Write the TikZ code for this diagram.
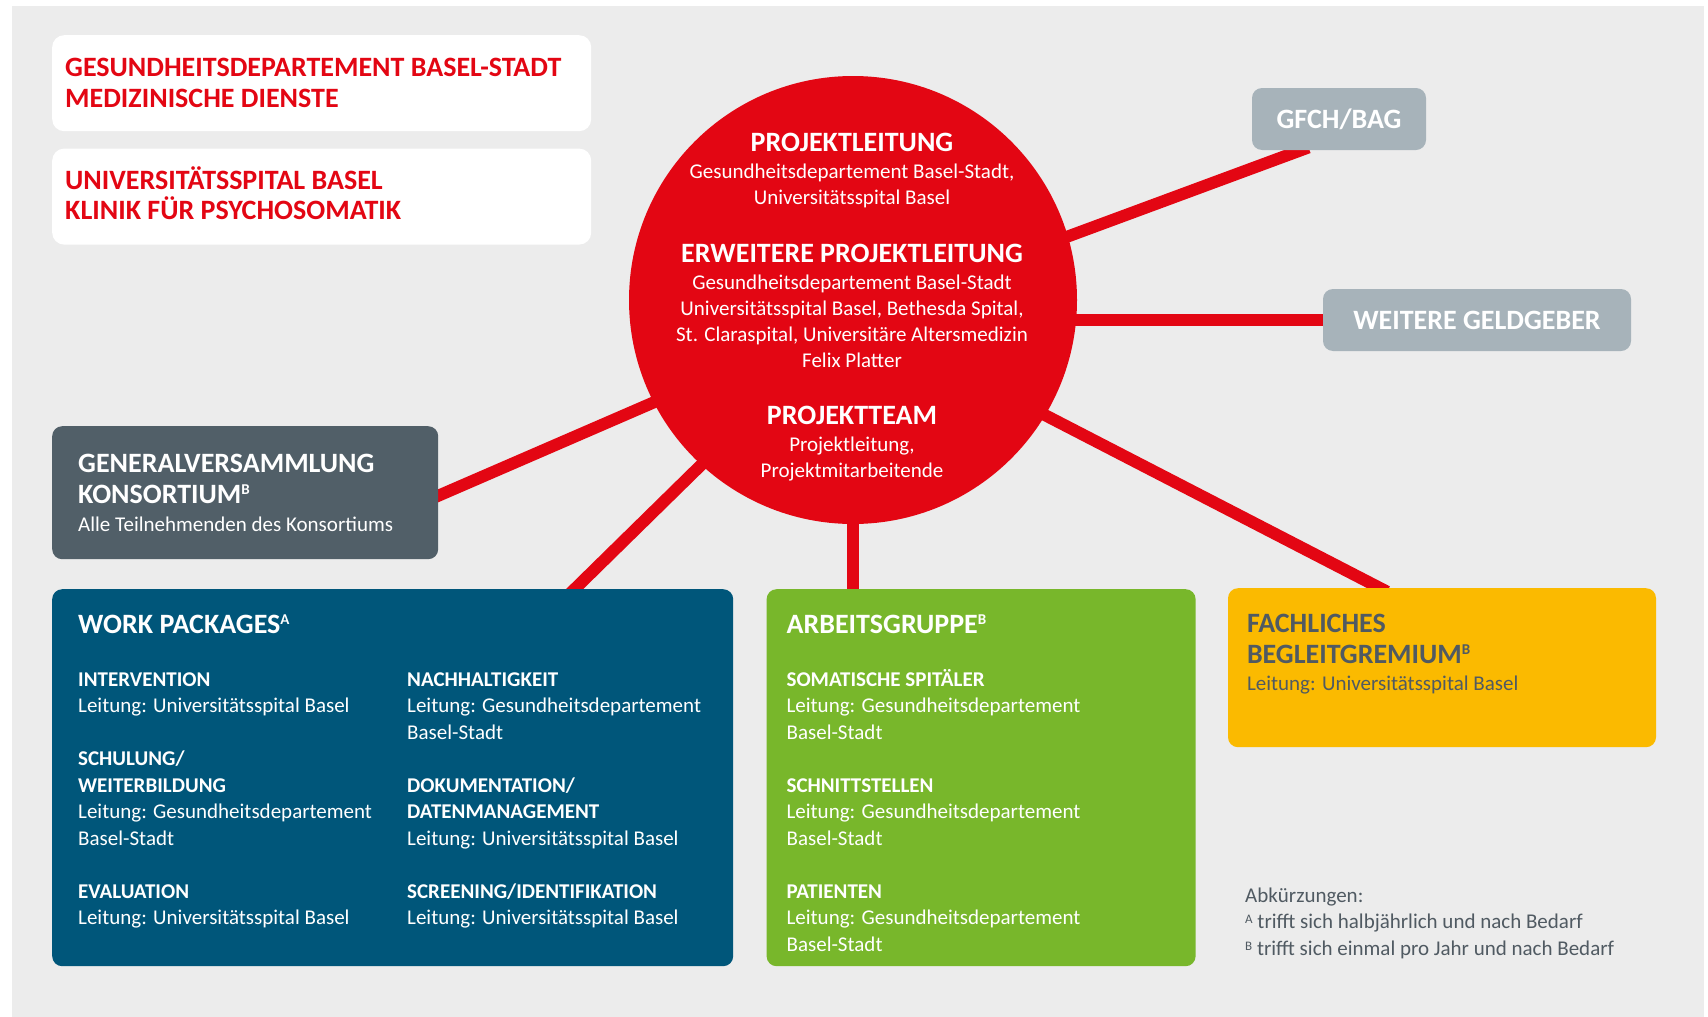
\documentclass[tikz,border=0pt]{standalone}
\usepackage{fontspec}
\setmainfont{Carlito}
\usetikzlibrary{positioning,calc,backgrounds}
\definecolor{rotBasel}{RGB}{227,6,19}
\definecolor{panelGrau}{RGB}{236,236,236}
\definecolor{hellGrau}{RGB}{167,179,186}
\definecolor{schiefer}{RGB}{81,95,104}
\definecolor{blauWP}{RGB}{0,86,122}
\definecolor{gruenAG}{RGB}{120,183,43}
\definecolor{gelbFB}{RGB}{251,186,0}
\definecolor{textGrau}{RGB}{80,90,98}
\newcommand{\kopfschrift}{\fontsize{28}{30.5}\selectfont\bfseries}
\newcommand{\grundschrift}{\fontsize{21}{26.5}\selectfont}
\newcommand{\hochB}[1]{\raisebox{8.5pt}{\fontsize{15}{15}\selectfont #1}}
\newcommand{\hochL}[1]{\raisebox{5pt}{\fontsize{13}{13}\selectfont #1}}
\tikzset{
  kasten/.style={rectangle, rounded corners=10pt, anchor=north west, inner sep=0pt},
  weisskasten/.style={kasten, fill=white, rounded corners=12pt,
                      minimum width=539pt, minimum height=96pt},
  geldkasten/.style={rectangle, rounded corners=10pt, fill=hellGrau, text=white,
                     font=\kopfschrift, inner sep=0pt, minimum height=62pt},
  titel/.style={anchor=base west, inner sep=0pt, align=left, font=\kopfschrift},
  inhalt/.style={anchor=base west, inner sep=0pt, align=left, font=\grundschrift},
  kreistext/.style={anchor=base, inner sep=0pt, align=center, text=white,
                    font=\fontsize{21}{26}\selectfont},
  linie/.style={rotBasel, line width=12pt, shorten >=-8pt},
}

\begin{document}
\begin{tikzpicture}[x=1pt, y=-1pt]
  \useasboundingbox (0,0) rectangle (1708,1017);
  % Traeger oben links (Textanker = letzte Zeile)
  \node[weisskasten] (gd) at (52,35) {};
  \node[titel, text=rotBasel] (gdtext) at ($(gd.north west)+(13,72)$)
    {GESUNDHEITSDEPARTEMENT BASEL-STADT\\MEDIZINISCHE DIENSTE};
  \node[weisskasten, below=17pt of gd.south west, anchor=north west] (usb) {};
  \node[titel, text=rotBasel] (usbtext) at ($(usb.north west)+(13,71.5)$)
    {UNIVERSITÄTSSPITAL BASEL\\KLINIK FÜR PSYCHOSOMATIK};

  % Geldgeber
  \node[geldkasten, minimum width=174pt] (gfch) at (1339,119) {GFCH/BAG};
  \node[geldkasten, minimum width=308pt] (weitere) at (1477,320) {WEITERE GELDGEBER};

  % Generalversammlung
  \node[kasten, fill=schiefer, minimum width=386pt, minimum height=133pt] (gv) at (52,426) {};
  \node[titel, text=white] (gvtext) at ($(gv.north west)+(26,105)$)
    {GENERALVERSAMMLUNG\\KONSORTIUM\hochB{B}\\[-2.5pt]%
     {\grundschrift\mdseries Alle Teilnehmenden des Konsortiums}};

  % Work Packages
  \node[kasten, fill=blauWP, minimum width=681pt, minimum height=377pt] (wp) at (52,589) {};
  \node[titel, text=white] (wptitel) at ($(wp.north west)+(26,44)$)
    {WORK PACKAGES\hochB{A}};
  \node[inhalt, text=white] (wplinks) at ($(wp.north west)+(26,335.5)$)
    {\textbf{INTERVENTION}\\Leitung: Universitätsspital Basel\\[26.5pt]
     \textbf{SCHULUNG/}\\\textbf{WEITERBILDUNG}\\Leitung: Gesundheitsdepartement\\Basel-Stadt\\[26.5pt]
     \textbf{EVALUATION}\\Leitung: Universitätsspital Basel};
  \node[inhalt, text=white] (wprechts) at ($(wp.north west)+(355,335.5)$)
    {\textbf{NACHHALTIGKEIT}\\Leitung: Gesundheitsdepartement\\Basel-Stadt\\[26.5pt]
     \textbf{DOKUMENTATION/}\\\textbf{DATENMANAGEMENT}\\Leitung: Universitätsspital Basel\\[26.5pt]
     \textbf{SCREENING/IDENTIFIKATION}\\Leitung: Universitätsspital Basel};

  % Arbeitsgruppe
  \node[kasten, fill=gruenAG, minimum width=429pt, minimum height=377pt,
        right=33pt of wp.north east, anchor=north west] (ag) {};
  \node[titel, text=white] (agtitel) at ($(ag.north west)+(20,44)$)
    {ARBEITSGRUPPE\hochB{B}};
  \node[inhalt, text=white] (agtext) at ($(ag.north west)+(20,362)$)
    {\textbf{SOMATISCHE SPITÄLER}\\Leitung: Gesundheitsdepartement\\Basel-Stadt\\[26.5pt]
     \textbf{SCHNITTSTELLEN}\\Leitung: Gesundheitsdepartement\\Basel-Stadt\\[26.5pt]
     \textbf{PATIENTEN}\\Leitung: Gesundheitsdepartement\\Basel-Stadt};

  % Begleitgremium
  \node[kasten, fill=gelbFB, minimum width=428pt, minimum height=159pt,
        right=32pt of ag.north east, anchor=north west, yshift=1pt] (fb) {};
  \node[titel, text=textGrau] (fbtext) at ($(fb.north west)+(19,102)$)
    {FACHLICHES\\BEGLEITGREMIUM\hochB{B}\\[-3.5pt]%
     {\grundschrift\mdseries Leitung: Universitätsspital Basel}};

  % Legende
  \node[inhalt, text=textGrau] (abk) at (1245,955)
    {Abkürzungen:\\\hochL{A} trifft sich halbjährlich und nach Bedarf\\
     \hochL{B} trifft sich einmal pro Jahr und nach Bedarf};

  % Projektleitung im Kreis
  \node[circle, fill=rotBasel, minimum size=448pt, inner sep=0pt] (kreis) at (853,300) {};
  \coordinate (nabe) at ([yshift=-16pt]kreis.center);
  \node[kreistext] (pl) at (852,204.5)
    {{\kopfschrift PROJEKTLEITUNG}\\[1.5pt]Gesundheitsdepartement Basel-Stadt,\\Universitätsspital Basel};
  \node[kreistext] (epl) at (852,367.5)
    {{\kopfschrift ERWEITERE PROJEKTLEITUNG}\\[1.5pt]Gesundheitsdepartement Basel-Stadt\\
     Universitätsspital Basel, Bethesda Spital,\\St. Claraspital, Universitäre Altersmedizin\\Felix Platter};
  \node[kreistext] (pt) at (852,477.5)
    {{\kopfschrift PROJEKTTEAM}\\[1.5pt]Projektleitung,\\Projektmitarbeitende};

  \begin{scope}[on background layer]
    \fill[panelGrau] (12,6) rectangle (1704,1017);
    \draw[linie] (nabe) -- ([xshift=-38pt]gfch.south);
    \draw[linie] (kreis.center |- weitere.west) -- (weitere.west);
    \draw[linie] (nabe) -- ([yshift=-3pt]gv.east);
    \draw[linie] (nabe) -- ([xshift=182pt]wp.north);
    \draw[linie] (nabe) -- (nabe |- ag.north);
    \draw[linie] (nabe) -- ([xshift=-62pt]fb.north);
  \end{scope}
\end{tikzpicture}
\end{document}
